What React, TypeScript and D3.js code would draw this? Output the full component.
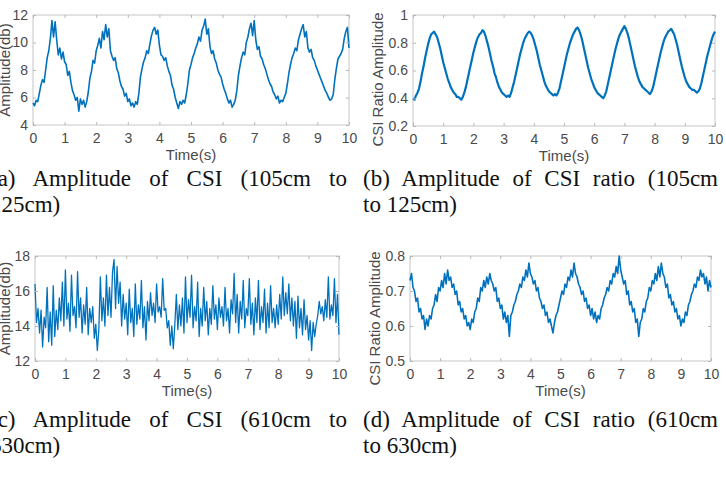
import React, { useEffect, useRef } from 'react';
import * as d3 from 'd3';

// samples every 0.05 s, 0..10 s
const ampNear = [
  5.6, 5.4, 5.8, 5.7, 6.3, 6.9, 7.3, 7.1, 8.0, 8.9,
  9.4, 10.3, 11.6, 10.4, 11.5, 10.2, 9.1, 9.6, 8.8, 9.3,
  8.6, 8.4, 7.6, 7.9, 7.1, 6.5, 6.2, 5.8, 6.0, 5.0,
  5.9, 5.5, 5.8, 5.3, 5.7, 6.4, 7.4, 7.9, 8.7, 8.5,
  9.4, 9.8, 10.3, 9.6, 10.8, 10.2, 11.3, 10.4, 11.0, 9.4,
  9.0, 8.7, 8.9, 8.1, 7.8, 7.2, 6.8, 6.6, 6.1, 6.3,
  5.7, 5.9, 5.4, 5.6, 5.3, 5.7, 5.5, 6.3, 7.5, 8.1,
  8.6, 8.9, 9.4, 9.2, 9.9, 10.5, 10.9, 11.1, 10.6, 10.9,
  9.8, 9.1, 9.0, 8.7, 8.9, 8.3, 7.9, 7.6, 6.9, 6.6,
  6.0, 5.6, 5.2, 5.7, 5.5, 5.8, 5.6, 6.2, 7.0, 8.0,
  8.4, 8.9, 9.2, 9.6, 9.9, 10.4, 10.1, 10.9, 11.2, 11.7,
  10.6, 11.0, 9.7, 9.2, 9.4, 8.8, 8.5, 8.0, 7.7, 7.5,
  7.0, 6.6, 6.3, 5.9, 5.6, 5.8, 5.3, 5.5, 5.8, 6.5,
  7.6, 8.3, 8.9, 9.3, 9.1, 10.0, 10.4, 11.0, 11.4, 10.5,
  11.6, 10.2, 9.5, 9.7, 9.0, 8.8, 8.4, 8.1, 7.7, 7.3,
  7.0, 6.8, 6.4, 6.2, 5.9, 6.1, 5.6, 5.8, 5.7, 6.0,
  6.3, 7.0, 7.8, 8.4, 8.9, 9.2, 9.6, 9.4, 10.2, 10.6,
  11.0, 11.3, 10.4, 10.8, 9.6, 9.3, 9.5, 8.9, 8.7, 8.3,
  8.0, 7.7, 7.4, 7.1, 6.8, 6.5, 6.3, 6.0, 5.8, 5.9,
  6.2, 7.3, 8.1, 8.8, 9.0, 9.2, 9.5, 10.3, 10.8, 11.1,
  9.6,
];

const ratioNear = [
  0.40, 0.39, 0.42, 0.44, 0.47, 0.52, 0.58, 0.63, 0.69, 0.74,
  0.79, 0.83, 0.86, 0.87, 0.88, 0.86, 0.84, 0.80, 0.76, 0.71,
  0.66, 0.62, 0.58, 0.54, 0.51, 0.48, 0.46, 0.44, 0.43, 0.41,
  0.41, 0.40, 0.39, 0.41, 0.44, 0.48, 0.53, 0.58, 0.63, 0.68,
  0.73, 0.77, 0.81, 0.84, 0.86, 0.87, 0.89, 0.88, 0.85, 0.81,
  0.77, 0.72, 0.67, 0.63, 0.58, 0.55, 0.51, 0.48, 0.46, 0.44,
  0.43, 0.42, 0.41, 0.42, 0.41, 0.44, 0.48, 0.52, 0.57, 0.62,
  0.67, 0.72, 0.76, 0.80, 0.83, 0.85, 0.87, 0.88, 0.87, 0.85,
  0.82, 0.78, 0.74, 0.69, 0.64, 0.60, 0.56, 0.52, 0.49, 0.47,
  0.45, 0.44, 0.43, 0.42, 0.43, 0.42, 0.44, 0.47, 0.52, 0.57,
  0.62, 0.67, 0.72, 0.76, 0.80, 0.83, 0.86, 0.88, 0.90, 0.91,
  0.89, 0.86, 0.82, 0.77, 0.72, 0.67, 0.62, 0.58, 0.54, 0.51,
  0.48, 0.46, 0.44, 0.43, 0.42, 0.41, 0.40, 0.42, 0.45, 0.50,
  0.55, 0.60, 0.65, 0.70, 0.75, 0.79, 0.83, 0.86, 0.88, 0.90,
  0.92, 0.90, 0.87, 0.83, 0.78, 0.73, 0.68, 0.63, 0.59, 0.55,
  0.52, 0.50, 0.48, 0.47, 0.46, 0.45, 0.44, 0.43, 0.45, 0.48,
  0.53, 0.58, 0.63, 0.68, 0.73, 0.77, 0.81, 0.84, 0.86, 0.88,
  0.89, 0.90, 0.88, 0.86, 0.82, 0.78, 0.73, 0.68, 0.63, 0.59,
  0.55, 0.52, 0.50, 0.48, 0.47, 0.46, 0.46, 0.45, 0.44, 0.45,
  0.47, 0.51, 0.56, 0.61, 0.66, 0.71, 0.75, 0.79, 0.83, 0.86,
  0.88,
];

const ampFar = [
  16.4, 14.2, 15.0, 13.6, 14.9, 12.8, 14.5, 13.9, 16.2, 13.1,
  14.8, 12.9, 16.3, 13.4, 14.9, 13.8, 15.6, 14.3, 16.5, 14.0,
  17.2, 14.4, 15.3, 13.7, 16.9, 14.6, 15.1, 13.9, 17.1, 14.5,
  15.6, 13.6, 15.2, 14.1, 16.2, 13.5, 15.0, 14.2, 15.1, 13.3,
  14.1, 12.6, 13.8, 16.8, 14.3, 15.6, 14.0, 16.9, 14.6, 16.2,
  14.5, 17.1, 17.8, 15.0, 17.4, 15.3, 16.5, 14.0, 15.8, 14.4,
  15.3, 13.5, 16.1, 14.2, 15.0, 13.4, 16.4, 14.1, 15.2, 14.4,
  16.6, 13.9, 15.1, 13.2, 15.4, 14.3, 15.9, 14.6, 15.3, 14.2,
  16.4, 14.8, 15.1, 14.5, 16.7, 14.9, 15.0, 13.9, 14.3, 12.9,
  14.0, 12.7, 14.1, 15.8, 13.8, 15.2, 14.0, 15.6, 13.6, 16.8,
  14.2, 15.5, 14.5, 16.9, 13.9, 15.1, 14.3, 16.5, 13.4, 15.0,
  14.0, 16.2, 14.3, 15.4, 13.5, 15.0, 14.1, 16.3, 14.4, 15.2,
  13.8, 15.6, 14.5, 15.1, 14.0, 16.2, 14.3, 15.0, 13.6, 15.5,
  14.7, 17.0, 14.2, 15.8, 13.6, 15.4, 14.4, 16.6, 13.9, 15.0,
  14.6, 16.7, 14.1, 15.3, 13.5, 15.6, 14.2, 16.6, 13.8, 15.1,
  14.2, 16.1, 13.6, 15.3, 13.9, 16.3, 14.2, 15.0, 13.9, 15.2,
  14.1, 15.8, 14.4, 16.8, 14.6, 15.9, 14.7, 16.4, 14.3, 15.6,
  14.0, 15.4, 13.3, 15.7, 13.9, 15.0, 13.5, 15.5, 13.8, 14.6,
  13.2, 14.3, 12.6, 14.2, 13.4, 14.1, 14.6, 15.4, 14.7, 15.1,
  14.3, 15.5, 14.5, 16.8, 14.4, 15.2, 14.6, 16.7, 14.2, 15.8,
  13.5,
];

const ratioFar = [
  0.73, 0.75, 0.71, 0.70, 0.67, 0.68, 0.64, 0.65, 0.62, 0.63,
  0.59, 0.62, 0.60, 0.63, 0.62, 0.65, 0.66, 0.69, 0.67, 0.71,
  0.70, 0.73, 0.71, 0.75, 0.72, 0.76, 0.73, 0.74, 0.71, 0.72,
  0.69, 0.70, 0.66, 0.67, 0.64, 0.65, 0.62, 0.63, 0.60, 0.61,
  0.59, 0.62, 0.61, 0.64, 0.65, 0.68, 0.67, 0.71, 0.70, 0.73,
  0.71, 0.74, 0.72, 0.75, 0.73, 0.72, 0.70, 0.71, 0.67, 0.68,
  0.65, 0.66, 0.62, 0.64, 0.61, 0.63, 0.57, 0.63, 0.64, 0.66,
  0.67, 0.69, 0.70, 0.72, 0.71, 0.74, 0.73, 0.76, 0.74, 0.78,
  0.75, 0.74, 0.72, 0.73, 0.70, 0.71, 0.68, 0.67, 0.65, 0.66,
  0.63, 0.64, 0.61, 0.62, 0.60, 0.58, 0.61, 0.63, 0.64, 0.66,
  0.68, 0.70, 0.69, 0.72, 0.71, 0.74, 0.73, 0.76, 0.74, 0.78,
  0.75, 0.74, 0.72, 0.71, 0.69, 0.70, 0.67, 0.68, 0.65, 0.66,
  0.63, 0.65, 0.62, 0.64, 0.61, 0.63, 0.62, 0.65, 0.66, 0.68,
  0.69, 0.71, 0.70, 0.73, 0.72, 0.75, 0.74, 0.77, 0.75, 0.80,
  0.76, 0.74, 0.72, 0.73, 0.69, 0.70, 0.66, 0.67, 0.64, 0.65,
  0.61, 0.62, 0.57, 0.61, 0.62, 0.65, 0.64, 0.67, 0.68, 0.71,
  0.70, 0.73, 0.72, 0.75, 0.73, 0.77, 0.74, 0.78, 0.75, 0.74,
  0.71, 0.72, 0.68, 0.69, 0.66, 0.67, 0.64, 0.65, 0.62, 0.63,
  0.60, 0.62, 0.61, 0.64, 0.63, 0.66, 0.67, 0.69, 0.70, 0.72,
  0.71, 0.74, 0.73, 0.76, 0.74, 0.75, 0.72, 0.74, 0.70, 0.73,
  0.71,
];

const xTicks = [0, 1, 2, 3, 4, 5, 6, 7, 8, 9, 10];
const ampNearTicks = [4, 6, 8, 10, 12];
const ratioNearTicks = [0.2, 0.4, 0.6, 0.8, 1];
const ampFarTicks = [12, 14, 16, 18];
const ratioFarTicks = [0.5, 0.6, 0.7, 0.8];

const captionA = ['(a) Amplitude of CSI (105cm to', '125cm)'];
const captionB = ['(b) Amplitude of CSI ratio (105cm', 'to 125cm)'];
const captionC = ['(c) Amplitude of CSI (610cm to', '630cm)'];
const captionD = ['(d) Amplitude of CSI ratio (610cm', 'to 630cm)'];

const W = 726;
const H = 477;
const BLUE = '#0072BD';
const SANS = '"Liberation Sans", Arial, Helvetica, sans-serif';
const SERIF = '"Liberation Serif", "Times New Roman", serif';

const panels = [
  { values: ampNear, yDomain: [4, 12], yTicks: ampNearTicks, yLabel: 'Amplitude(db)', l: 33, r: 349, t: 15, b: 125, labX: 6, labShift: 0, sw: 1.6 },
  { values: ratioNear, yDomain: [0.2, 1], yTicks: ratioNearTicks, yLabel: 'CSI Ratio Amplitude', l: 413, r: 715, t: 15, b: 126, labX: 379, labShift: 9, sw: 2.2 },
  { values: ampFar, yDomain: [12, 18], yTicks: ampFarTicks, yLabel: 'Amplitude(db)', l: 35, r: 339, t: 256, b: 361, labX: 6, labShift: 0, sw: 1.3 },
  { values: ratioFar, yDomain: [0.5, 0.8], yTicks: ratioFarTicks, yLabel: 'CSI Ratio Amplitude', l: 410, r: 711, t: 256, b: 361, labX: 376, labShift: 10, sw: 1.6 },
];

const captions = [
  { lines: captionA, x: -10, width: 357, y: 186 },
  { lines: captionB, x: 363, width: 355, y: 186 },
  { lines: captionC, x: -10, width: 357, y: 427 },
  { lines: captionD, x: 363, width: 355, y: 427 },
];

function App() {
  const svgRef = useRef<SVGSVGElement>(null);

  useEffect(() => {
    const svg = d3.select(svgRef.current);
    svg.selectAll('*').remove();

    panels.forEach((p) => {
      const x = d3.scaleLinear().domain([0, 10]).range([p.l, p.r]);
      const y = d3.scaleLinear().domain(p.yDomain).range([p.b, p.t]);
      const g = svg.append('g');
      const n = p.values.length;

      const line = d3
        .line<number>()
        .x((d, i) => x((i * 10) / (n - 1)))
        .y((d) => y(d));

      g.append('rect')
        .attr('x', p.l)
        .attr('y', p.t)
        .attr('width', p.r - p.l)
        .attr('height', p.b - p.t)
        .attr('fill', 'white')
        .attr('stroke', '#c6c6c6')
        .attr('stroke-width', 1);

      g.append('path')
        .datum(p.values)
        .attr('d', line)
        .attr('fill', 'none')
        .attr('stroke', BLUE)
        .attr('stroke-width', p.sw)
        .attr('stroke-linejoin', 'round');

      const styleAxis = (sel: any) => {
        sel.select('.domain').remove();
        sel.selectAll('line').attr('stroke', '#b8b8b8');
        sel.selectAll('text')
          .attr('fill', '#4a4a4a')
          .style('font-family', SANS)
          .style('font-size', '14px');
      };

      g.append('g')
        .attr('transform', `translate(0,${p.b})`)
        .call(d3.axisBottom(x).tickValues(xTicks).tickSize(-3).tickPadding(8).tickFormat(d3.format('d')))
        .call(styleAxis);
      g.append('g')
        .attr('transform', `translate(0,${p.t})`)
        .call(d3.axisTop(x).tickValues(xTicks).tickSize(-3).tickFormat(() => ''))
        .call(styleAxis);
      g.append('g')
        .attr('transform', `translate(${p.l},0)`)
        .call(d3.axisLeft(y).tickValues(p.yTicks).tickSize(-3).tickPadding(5).tickFormat((d) => String(d)))
        .call(styleAxis);
      g.append('g')
        .attr('transform', `translate(${p.r},0)`)
        .call(d3.axisRight(y).tickValues(p.yTicks).tickSize(-3).tickFormat(() => ''))
        .call(styleAxis);

      g.append('text')
        .attr('x', (p.l + p.r) / 2)
        .attr('y', p.b + 31)
        .attr('text-anchor', 'middle')
        .attr('dominant-baseline', 'middle')
        .attr('fill', '#4a4a4a')
        .style('font-family', SANS)
        .style('font-size', '15px')
        .text('Time(s)');

      g.append('text')
        .attr('transform', `translate(${p.labX},${(p.t + p.b) / 2 + p.labShift}) rotate(-90)`)
        .attr('text-anchor', 'middle')
        .attr('dominant-baseline', 'middle')
        .attr('fill', '#4a4a4a')
        .style('font-family', SANS)
        .style('font-size', '15px')
        .text(p.yLabel);
    });

    // captions, first line justified like the paper
    captions.forEach((c) => {
      const first = svg
        .append('text')
        .attr('x', c.x)
        .attr('y', c.y)
        .attr('fill', '#111')
        .style('font-family', SERIF)
        .style('font-size', '23px')
        .text(c.lines[0]);
      const natural = (first.node() as SVGTextElement).getComputedTextLength();
      const gaps = c.lines[0].split(' ').length - 1;
      first.style('word-spacing', `${(c.width - natural) / gaps}px`);

      svg
        .append('text')
        .attr('x', c.x)
        .attr('y', c.y + 26)
        .attr('fill', '#111')
        .style('font-family', SERIF)
        .style('font-size', '23px')
        .text(c.lines[1]);
    });
  }, []);

  return (
    <svg
      ref={svgRef}
      width={W}
      height={H}
      style={{ position: 'absolute', left: 0, top: 0, background: 'white' }}
    ></svg>
  );
}

export default App;
